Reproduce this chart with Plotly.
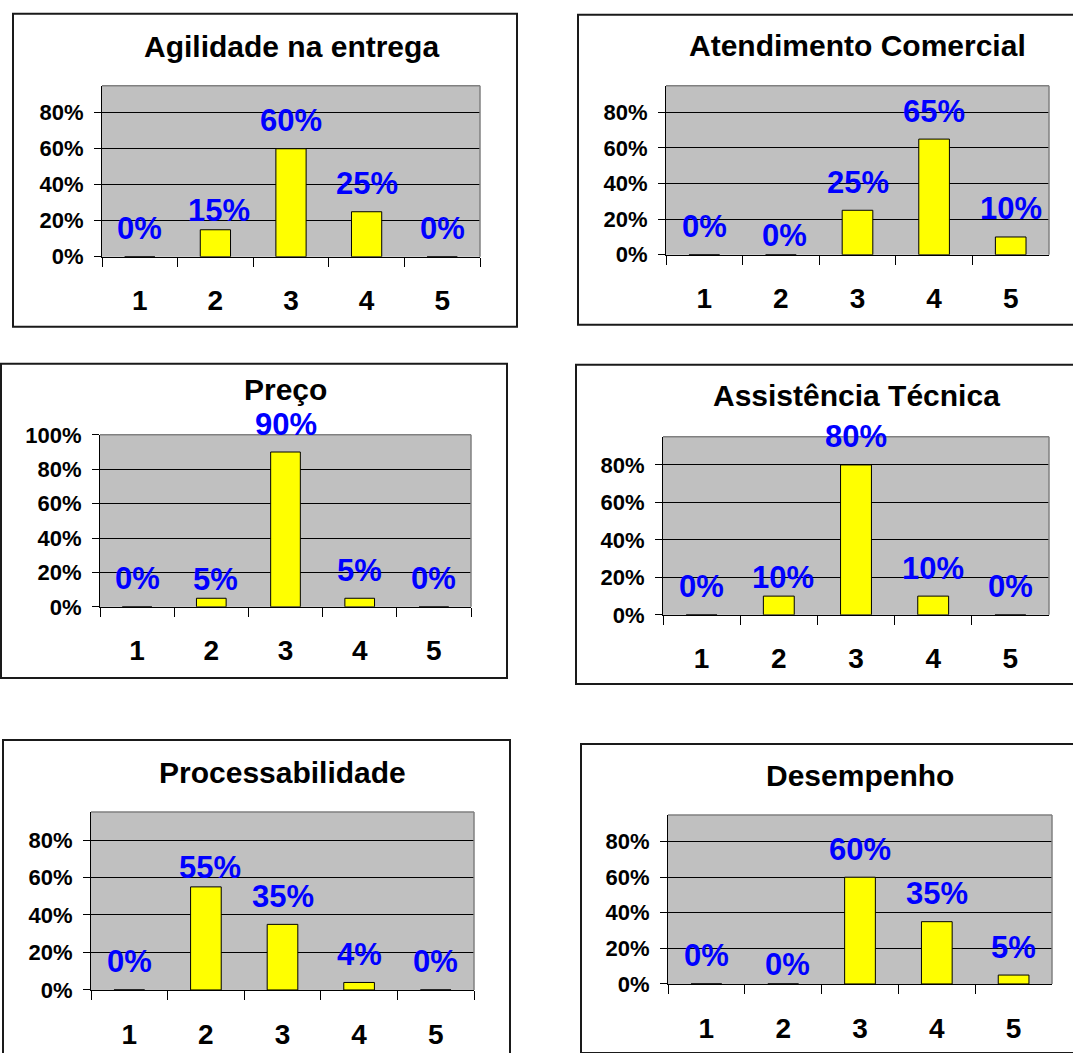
import plotly.graph_objects as go

# ---------------- data ----------------
categories = ["1", "2", "3", "4", "5"]

titles = [
    "Agilidade na entrega",
    "Atendimento Comercial",
    "Preço",
    "Assistência Técnica",
    "Processabilidade",
    "Desempenho",
]

agilidade = [0.00, 0.15, 0.60, 0.25, 0.00]
atendimento = [0.00, 0.00, 0.25, 0.65, 0.10]
preco = [0.00, 0.05, 0.90, 0.05, 0.00]
assistencia = [0.00, 0.10, 0.80, 0.10, 0.00]
processabilidade = [0.00, 0.55, 0.35, 0.04, 0.00]
desempenho = [0.00, 0.00, 0.60, 0.35, 0.05]

series = [agilidade, atendimento, preco, assistencia, processabilidade, desempenho]

y_max = [0.95, 0.95, 1.0, 0.95, 0.95, 0.95]
y_ticks = [
    [0, 0.2, 0.4, 0.6, 0.8],
    [0, 0.2, 0.4, 0.6, 0.8],
    [0, 0.2, 0.4, 0.6, 0.8, 1.0],
    [0, 0.2, 0.4, 0.6, 0.8],
    [0, 0.2, 0.4, 0.6, 0.8],
    [0, 0.2, 0.4, 0.6, 0.8],
]

# ---------------- layout geometry (pixels) ----------------
W, H = 1073, 1053


def fy(y):
    # empirical vertical correction for the rendered page
    return (y - 11.3) / 0.976


# box: left, top, right, bottom
boxes = [
    (13, 13, 517, 326),
    (578, 14, 1085, 324),
    (1, 363, 507, 677),
    (576, 364, 1085, 683),
    (3, 739, 510, 1075),
    (581, 743, 1085, 1052),
]
# plot area: left, right, top, zero-line
plots = [
    (102, 480, 85, 256),
    (666, 1049, 85, 254),
    (100, 471, 434, 606),
    (663, 1049, 436, 614),
    (91, 474, 811, 989),
    (668, 1052, 814, 983),
]
title_y = [46, 45, 389, 395, 772, 775]

label_shift = [28, 19, 28, 28, 28]
label_xshift = [0, 4, 0, 0, 0]

FONT = "Liberation Sans, Arial, sans-serif"

fig = go.Figure()
shapes = []
annotations = []

for i in range(6):
    n = "" if i == 0 else str(i + 1)
    xa, ya = "xaxis" + n, "yaxis" + n
    xr, yr = "x" + n, "y" + n
    pl, pr, pt, pz = plots[i]
    pt, pz = fy(pt), fy(pz)

    fig.add_trace(go.Bar(
        x=categories, y=series[i], xaxis=xr, yaxis=yr,
        marker=dict(color="#FFFF00", line=dict(color="#000000", width=1)),
        showlegend=False, hoverinfo="skip",
    ))

    fig.update_layout(**{
        xa: dict(
            domain=[pl / W, pr / W], anchor=yr, type="category",
            categoryorder="array", categoryarray=categories,
            range=[-0.5, len(categories) - 0.5],
            showline=True, linecolor="#000000", linewidth=1,
            ticks="outside", tickson="boundaries", ticklen=9,
            tickcolor="#000000", tickwidth=1, showgrid=False,
            tickfont=dict(family=FONT, size=28, color="#000000", weight="bold"),
            ticklabelstandoff=19, fixedrange=True,
        ),
        ya: dict(
            domain=[1 - pz / H, 1 - pt / H], anchor=xr,
            range=[0, y_max[i]], tickvals=y_ticks[i], tickformat=".0%",
            showline=True, linecolor="#000000", linewidth=1,
            ticks="outside", ticklen=7, tickcolor="#000000",
            showgrid=True, gridcolor="#000000", gridwidth=1, zeroline=False,
            tickfont=dict(family=FONT, size=22, color="#000000", weight="bold"),
            ticklabelstandoff=6, fixedrange=True,
        ),
    })

    # outer box
    bl, bt, br, bb = boxes[i]
    bt, bb = fy(bt), fy(bb)
    shapes.append(dict(type="rect", xref="paper", yref="paper",
                       x0=bl / W, x1=br / W, y0=1 - bb / H, y1=1 - bt / H,
                       line=dict(color="#1a1a1a", width=2), layer="below"))
    # gray border top & right of plot area
    shapes.append(dict(type="line", xref="paper", yref="paper",
                       x0=pl / W, x1=pr / W, y0=1 - pt / H, y1=1 - pt / H,
                       line=dict(color="#808080", width=1.5)))
    shapes.append(dict(type="line", xref="paper", yref="paper",
                       x0=pr / W, x1=pr / W, y0=1 - pt / H, y1=1 - pz / H,
                       line=dict(color="#808080", width=1.5)))

    # title
    annotations.append(dict(
        text=titles[i], xref=xr + " domain", x=0.5, yref="paper",
        y=1 - fy(title_y[i]) / H, xanchor="center", yanchor="middle",
        showarrow=False,
        font=dict(family=FONT, size=30, color="#000000", weight="bold"),
    ))

    # data labels (category index positions on the category axis)
    for j, v in enumerate(series[i]):
        annotations.append(dict(
            text=f"{round(v * 100):.0f}%", xref=xr, yref=yr, x=j, y=v,
            yshift=label_shift[j], xshift=label_xshift[j],
            xanchor="center", yanchor="middle", showarrow=False,
            font=dict(family=FONT, size=31, color="#0000FF", weight="bold"),
        ))

fig.update_layout(
    width=W, height=H, autosize=False,
    margin=dict(l=0, r=0, t=0, b=0),
    paper_bgcolor="#FFFFFF", plot_bgcolor="#C0C0C0",
    bargap=0.6, showlegend=False,
    shapes=shapes, annotations=annotations,
)

fig.write_html("out.html")
